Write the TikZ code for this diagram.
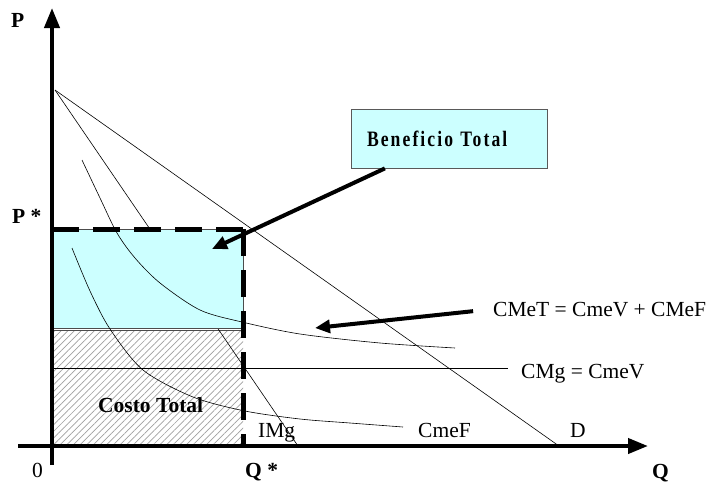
\documentclass[tikz,border=0pt]{standalone}
\usepackage{fontspec}
\setmainfont{Liberation Serif}
\usetikzlibrary{arrows.meta,patterns.meta}
\definecolor{benefit}{RGB}{204,255,255}
\begin{document}
\begin{tikzpicture}[x=1pt,y=-1pt]
\tikzset{axis/.style = {line width=4pt, -{Triangle[length=20pt,width=15pt]}}}
\tikzset{curve/.style = {line width=0.6pt}}
\tikzset{pointer/.style = {line width=4pt, -{Triangle[length=15pt,width=13pt]}}}
\tikzset{guide/.style = {line width=5pt, dash pattern=on 27pt off 14pt}}
\tikzset{lbl/.style = {font=\fontsize{21.5}{25}\selectfont, inner sep=0pt, anchor=base west}}
\tikzset{blbl/.style = {font=\fontsize{21.5}{25}\selectfont\bfseries, inner sep=0pt, anchor=base west}}
\tikzset{benbox/.style = {draw=gray!70!black, line width=0.8pt, fill=benefit, minimum height=59pt,
  inner xsep=16pt, text width=164pt, align=left,
  font=\fontsize{22}{26}\selectfont\bfseries\addfontfeatures{FakeStretch=0.8,LetterSpace=9.5}}}
\useasboundingbox (0,0) rectangle (715,485);
\coordinate (O) at (52,446);
\coordinate (ytop) at (52,8);
\coordinate (ybot) at (52,465);
\coordinate (xleft) at (18,446);
\coordinate (xtip) at (648,446);
\coordinate (A) at (55,90);
\coordinate (Dend) at (559,446);
\coordinate (IMgend) at (298,446);
\coordinate (Ps) at (52,229);
\coordinate (E) at (243,229);
\coordinate (Qs) at (243,446);
\coordinate (mcL) at (52,368);
\coordinate (mcR) at (508,368);
\coordinate (bentip) at (212,249);
\coordinate (cmettip) at (315,328);
\fill[pattern={Lines[angle=45,distance=4.7pt,line width=0.7pt]}, pattern color=gray!75] (52,330) rectangle (Qs);
\draw[gray!60!black, line width=0.5pt] (52,330) -- (243,330);
\draw[curve] (A) -- (IMgend);
\draw[fill=benefit, draw=gray!60!black, line width=0.6pt] (Ps) rectangle (243,328);
\draw[curve] (A) -- (Dend);
\draw[curve] (mcL) -- (mcR);
\draw[curve] plot[smooth] coordinates {(82,160) (100,198) (117,233) (135,258) (160,283) (200,310) (242,322) (300,334) (380,343) (455,348)};
\draw[curve] plot[smooth] coordinates {(72,248) (90,291) (110,329) (143,370) (193,397) (245,411) (300,419) (350,423) (403,427)};
\draw[guide] (Ps) -- (E);
\draw[guide] (E) -- (Qs);
\draw[axis] (ybot) -- (ytop);
\draw[axis] (xleft) -- (xtip);
\node[benbox] (ben) at (449,138.5) {Beneficio Total};
\node[lbl] (cmet) at (493,316) {CMeT = CmeV + CMeF};
\node[lbl] (cmg) at (521,378) {CMg = CmeV};
\node[lbl] (cmef) at (418,437) {CmeF};
\node[lbl] (dlbl) at (570,437) {D};
\node[lbl] (img) at (258,437) {IMg};
\node[lbl] (zero) at (32,477) {0};
\node[blbl] (costo) at (98,412) {Costo Total};
\node[blbl] (plbl) at (11,27) {P};
\node[blbl] (pstar) at (12,223) {P *};
\node[blbl] (qstar) at (245,477) {Q *};
\node[blbl] (qlbl) at (652,478) {Q};
\draw[pointer] (ben) -- (bentip);
\draw[pointer, shorten <=20pt] (cmet.west) -- (cmettip);
\end{tikzpicture}
\end{document}
